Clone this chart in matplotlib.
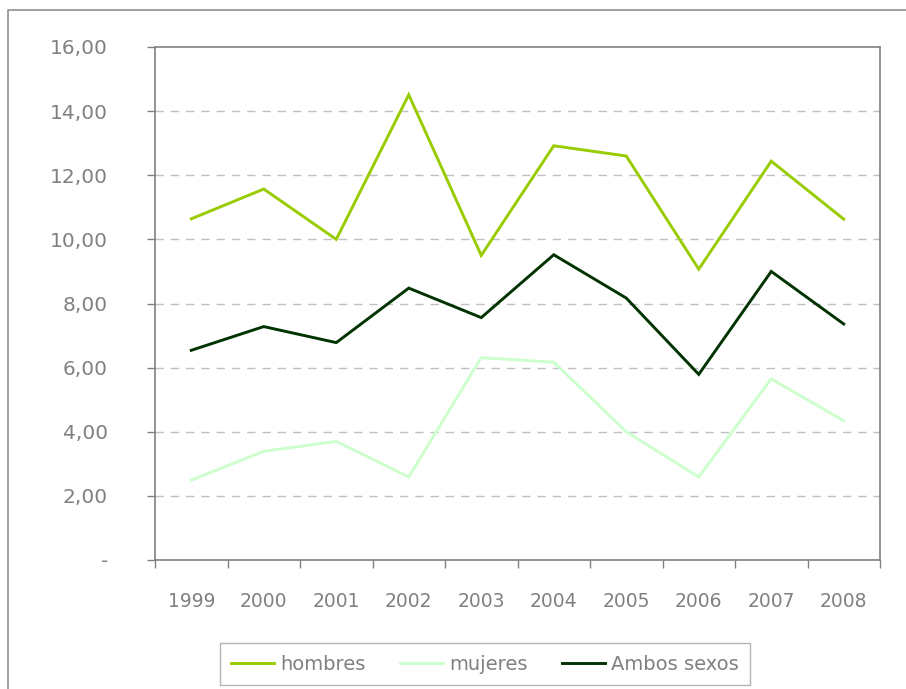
import matplotlib
matplotlib.use("Agg")
import matplotlib.pyplot as plt
from matplotlib.lines import Line2D
from matplotlib.ticker import FixedLocator, FuncFormatter

years = ["1999", "2000", "2001", "2002", "2003", "2004", "2005", "2006", "2007", "2008"]
hombres = [10.64, 11.57, 10.00, 14.51, 9.50, 12.92, 12.60, 9.07, 12.44, 10.63]
mujeres = [2.49, 3.39, 3.70, 2.59, 6.31, 6.17, 4.00, 2.59, 5.65, 4.34]
ambos = [6.54, 7.28, 6.78, 8.48, 7.56, 9.52, 8.17, 5.79, 9.00, 7.36]
series_names = ["hombres", "mujeres", "Ambos sexos"]
colors = ["#99CC00", "#CCFFCC", "#003300"]

W, H, DPI = 906, 689, 100
fig = plt.figure(figsize=(W / DPI, H / DPI), dpi=DPI)
plt.rcParams['font.family'] = ['DejaVu Sans']
gray = "#808080"

L, R, T, B = 155, 880, 47, 560
ax = fig.add_axes([L / W, 1 - B / H, (R - L) / W, (B - T) / H])

x = list(range(len(years)))
for vals, name, c in zip([hombres, mujeres, ambos], series_names, colors):
    ax.plot(x, vals, color=c, lw=2.1, label=name, solid_joinstyle="miter")

ax.set_xlim(-0.5, len(years) - 0.5)
ax.set_ylim(0, 16)

ax.yaxis.set_major_locator(FixedLocator([0, 2, 4, 6, 8, 10, 12, 14, 16]))
ax.yaxis.set_major_formatter(FuncFormatter(lambda v, p: "-" if v == 0 else f"{v:.2f}".replace(".", ",")))
ax.tick_params(axis="y", direction="out", length=6, width=1, color=gray, pad=28,
               labelsize=14.5, labelcolor=gray)

ax.xaxis.set_major_locator(FixedLocator([i - 0.5 for i in range(len(years) + 1)]))
ax.xaxis.set_major_formatter(FuncFormatter(lambda v, p: ""))
ax.xaxis.set_minor_locator(FixedLocator(x))
ax.set_xticklabels(years, minor=True)
ax.tick_params(axis="x", which="major", direction="out", length=6, width=1, color=gray)
ax.tick_params(axis="x", which="minor", length=0, pad=23, labelsize=13.5, labelcolor=gray)

for yv in [2, 4, 6, 8, 10, 12, 14]:
    ax.axhline(yv, color="#C0C0C0", lw=1, ls=(0, (6, 5)), zorder=0)

for s in ax.spines.values():
    s.set_color(gray)
    s.set_linewidth(1.2)

# outer chart border (clipped by image edge)
fig.add_artist(Line2D([8 / W, 8 / W, 1.0], [0.0, 1 - 10 / H, 1 - 10 / H],
                      transform=fig.transFigure, color="#909090", lw=1.2))

leg = fig.legend(loc="upper center", bbox_to_anchor=(485 / W, 1 - 643 / H), ncol=3,
                 frameon=True, fancybox=False, edgecolor="#A0A0A0", fontsize=14,
                 handlelength=2.2, handletextpad=0.3, columnspacing=1.8, borderpad=0.6,
                 borderaxespad=0)
for t in leg.get_texts():
    t.set_color(gray)
leg.get_frame().set_linewidth(1)

fig.savefig("out.png", dpi=DPI)
